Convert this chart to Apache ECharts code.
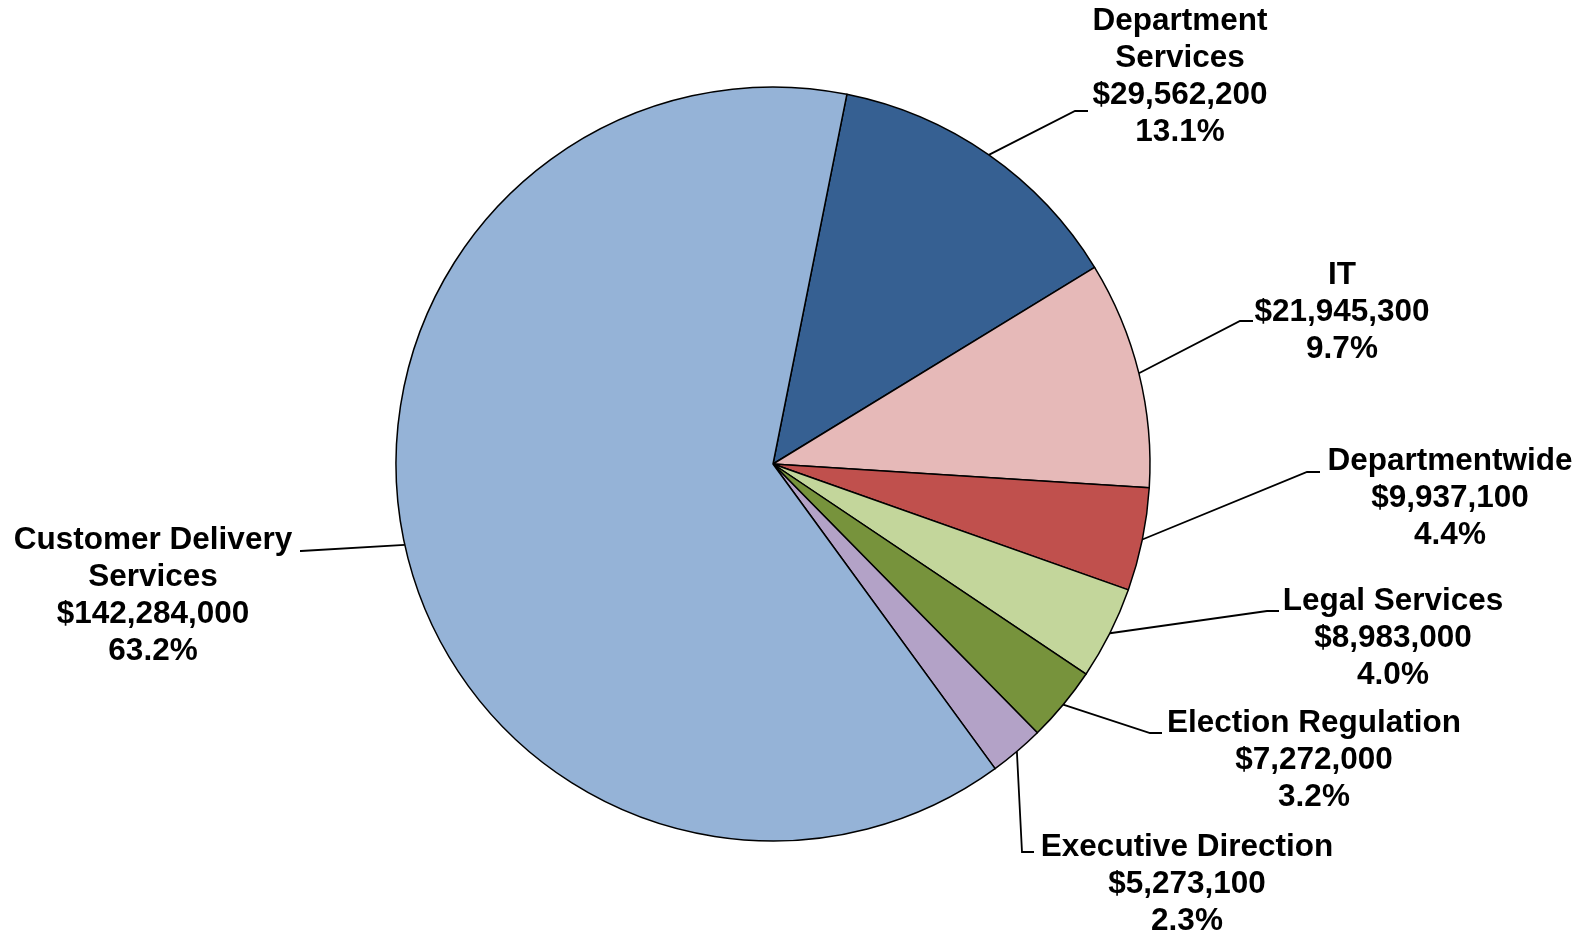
<!DOCTYPE html>
<html><head><meta charset="utf-8">
<script src="https://cdn.jsdelivr.net/npm/echarts@6/dist/echarts.min.js"></script>
<style>html,body{margin:0;padding:0;background:#fff}#c{width:1587px;height:936px}</style>
</head><body><div id="c"></div>
<script>
// ---- data ----
const categories = ['Department Services', 'IT', 'Departmentwide', 'Legal Services', 'Election Regulation', 'Executive Direction', 'Customer Delivery Services'];
const labelNames = ['Department\nServices', 'IT', 'Departmentwide', 'Legal Services', 'Election Regulation', 'Executive Direction', 'Customer Delivery\nServices'];
const values = [29562200, 21945300, 9937100, 8983000, 7272000, 5273100, 142284000];

// ---- styles / layout ----
const sliceColors = ['#366092', '#E6B9B8', '#C0504D', '#C3D69B', '#77933C', '#B3A2C7', '#95B3D7'];
const labelSpots = [
  { x: 1180, y: 77,  elbow: [1075, 111], end: [1088, 111] },
  { x: 1342, y: 312, elbow: [1240, 321], end: [1253, 321] },
  { x: 1450, y: 498, elbow: [1307, 472], end: [1320, 472] },
  { x: 1393, y: 638, elbow: [1267, 611], end: [1279, 611] },
  { x: 1314, y: 760, elbow: [1150, 733], end: [1162, 733] },
  { x: 1187, y: 884, elbow: [1022, 852], end: [1034, 852] },
  { x: 153,  y: 596, elbow: [301, 551],  end: [300, 551] }
];

const total = values.reduce((a, b) => a + b, 0);
const fmtMoney = v => '$' + v.toLocaleString('en-US');

const chart = echarts.init(document.getElementById('c'), null, { renderer: 'canvas' });
chart.setOption({
  backgroundColor: '#ffffff',
  animation: false,
  series: [{
    type: 'pie',
    center: [773, 464],
    radius: 377,
    startAngle: 78.7,
    clockwise: true,
    avoidLabelOverlap: false,
    silent: true,
    data: categories.map((n, i) => ({ name: n, value: values[i], itemStyle: { color: sliceColors[i] } })),
    itemStyle: { borderColor: '#000000', borderWidth: 1.5 },
    label: {
      show: true,
      position: 'outside',
      formatter: p => labelNames[p.dataIndex] + '\n' + fmtMoney(p.value) + '\n' + (p.value / total * 100).toFixed(1) + '%',
      fontFamily: '"Liberation Sans", Arial, sans-serif',
      fontWeight: 'bold',
      fontSize: 31.5,
      lineHeight: 37,
      color: '#000000',
      align: 'center'
    },
    labelLine: { show: true, length: 20, length2: 10, smooth: false, lineStyle: { color: '#000000', width: 1.8 } },
    labelLayout: function (p) {
      const s = labelSpots[p.dataIndex];
      const start = p.labelLinePoints ? p.labelLinePoints[0] : s.elbow;
      return { x: s.x, y: s.y, align: 'center', verticalAlign: 'middle', labelLinePoints: [start, s.elbow, s.end] };
    }
  }]
});
</script>
</body></html>
